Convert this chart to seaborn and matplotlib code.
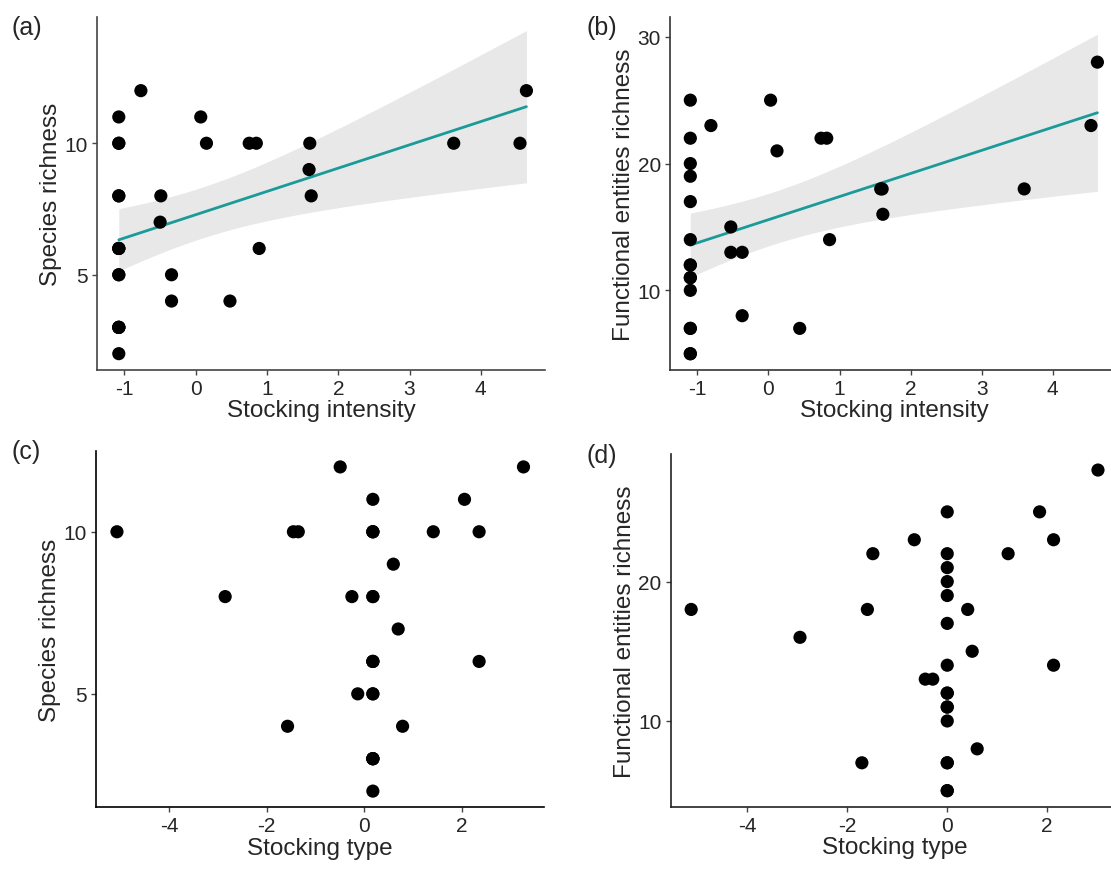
import numpy as np
import pandas as pd
import seaborn as sns
import matplotlib.pyplot as plt

# values (overlapping dots at the minimum
# stocking intensity / neutral stocking type are repeated)
intensity_a = [-1.08] * 15 + [-0.77, 0.07, 0.15, 0.75, 0.85, 1.60, 1.59, 1.62,
                              3.62, 4.55, 4.64, -0.49, -0.50, -0.34, -0.34, 0.48, 0.89]
species_a = [11, 10, 10, 8, 8, 6, 6, 6, 5, 5, 3, 3, 3, 3, 2,
             12, 11, 10, 10, 10, 10, 9, 8, 10, 10, 12, 8, 7, 5, 4, 4, 6]

intensity_b = [-1.10] * 15 + [-0.81, 0.03, 0.12, 0.74, 0.82, 1.58, 1.60, 1.61,
                              3.60, 4.54, 4.63, -0.53, -0.53, -0.37, -0.37, 0.44, 0.86]
fe_b = [25, 22, 20, 19, 17, 14, 12, 12, 11, 11, 10, 7, 7, 5, 5,
        23, 25, 21, 22, 22, 18, 18, 16, 18, 23, 28, 15, 13, 13, 8, 7, 14]

type_c = [0.18] * 16 + [-0.49, 3.27, 2.06, -5.07, -1.45, -1.35, 1.42, 2.36,
                        0.60, -2.85, -0.25, 0.70, 2.36, -0.13, -1.57, 0.79]
species_c = [11, 10, 10, 10, 8, 8, 6, 6, 6, 5, 5, 3, 3, 3, 3, 2,
             12, 12, 11, 10, 10, 10, 10, 10, 9, 8, 8, 7, 6, 5, 4, 4]

type_d = [0.01] * 16 + [3.03, 1.86, -0.65, 2.14, -1.48, 1.23, -5.12, -1.59,
                        0.42, -2.94, 0.51, 2.14, -0.43, -0.28, 0.61, -1.70]
fe_d = [25, 22, 21, 20, 19, 17, 14, 12, 12, 11, 11, 10, 7, 7, 5, 5,
        28, 25, 23, 23, 22, 22, 18, 18, 18, 16, 15, 14, 13, 13, 8, 7]

sns.set_theme(style="ticks")
plt.rcParams['font.family'] = ['Liberation Sans', 'DejaVu Sans']
plt.rcParams['axes.unicode_minus'] = False

fig = plt.figure(figsize=(11.11, 8.70), dpi=100)

# axes positions (left, bottom, width, height) in figure fraction
ax_a = fig.add_axes((0.0873, 0.5739, 0.4032, 0.4054))
ax_b = fig.add_axes((0.6030, 0.5739, 0.4033, 0.4054))
ax_c = fig.add_axes((0.0864, 0.0709, 0.4032, 0.4099))
ax_d = fig.add_axes((0.6037, 0.0716, 0.4030, 0.4054))

teal = "#1b9a9a"
dot = dict(color="black", s=90, edgecolor="none", alpha=1, zorder=3)


def lm_band(ax, x, y):
    # ggplot-style geom_smooth(method="lm"): t-based 95% confidence band
    x = np.asarray(x, float)
    y = np.asarray(y, float)
    n = len(x)
    b1, b0 = np.polyfit(x, y, 1)
    s = np.sqrt(np.sum((y - (b0 + b1 * x)) ** 2) / (n - 2))
    xs = np.linspace(x.min(), x.max(), 100)
    se = s * np.sqrt(1 / n + (xs - x.mean()) ** 2 / np.sum((x - x.mean()) ** 2))
    t = 2.042  # t(0.975, df=30)
    fit = b0 + b1 * xs
    ax.fill_between(xs, fit - t * se, fit + t * se, color="#e8e8e8", lw=0, zorder=1)


for ax, x, y in ((ax_a, intensity_a, species_a), (ax_b, intensity_b, fe_b)):
    lm_band(ax, x, y)
    sns.regplot(x=x, y=y, ax=ax, ci=None, scatter_kws=dot,
                line_kws=dict(color=teal, lw=2, zorder=2))

sns.scatterplot(x=type_c, y=species_c, ax=ax_c, **dot)
sns.scatterplot(x=type_d, y=fe_d, ax=ax_d, **dot)

ax_a.set(xlim=(-1.386, 4.90), ylim=(1.39, 14.8), xticks=range(-1, 5), yticks=[5, 10])
ax_b.set(xlim=(-1.387, 4.92), ylim=(3.74, 31.56), xticks=range(-1, 5), yticks=[10, 20, 30])
ax_c.set(xlim=(-5.50, 3.69), ylim=(1.5, 12.5), xticks=[-4, -2, 0, 2], yticks=[5, 10])
ax_d.set(xlim=(-5.53, 3.44), ylim=(3.85, 29.15), xticks=[-4, -2, 0, 2], yticks=[10, 20])

ax_a.set_xlabel("Stocking intensity", fontsize=17.5, labelpad=1)
ax_b.set_xlabel("Stocking intensity", fontsize=17.5, labelpad=1)
ax_c.set_xlabel("Stocking type", fontsize=17.5, labelpad=1)
ax_d.set_xlabel("Stocking type", fontsize=17.5, labelpad=1)
ax_a.set_ylabel("Species richness", fontsize=17.5, labelpad=2)
ax_c.set_ylabel("Species richness", fontsize=17.5, labelpad=2)
ax_b.set_ylabel("Functional entities richness", fontsize=17.5, labelpad=2)
ax_d.set_ylabel("Functional entities richness", fontsize=17.5, labelpad=2)

for ax, spc in ((ax_a, "#444444"), (ax_b, "#333333"), (ax_c, "black"), (ax_d, "#222222")):
    sns.despine(ax=ax)
    for s in ("left", "bottom"):
        ax.spines[s].set_color(spc)
        ax.spines[s].set_linewidth(1.2)
    ax.tick_params(labelsize=15, labelcolor="#262626", color="#444444",
                   length=3.5, width=1, pad=3)
    ax.grid(False)

fig.text(0.010, 0.982, "(a)", fontsize=18, va="top")
fig.text(0.528, 0.982, "(b)", fontsize=18, va="top")
fig.text(0.010, 0.494, "(c)", fontsize=18, va="top")
fig.text(0.528, 0.490, "(d)", fontsize=18, va="top")

fig.savefig("out.png", dpi=100)
